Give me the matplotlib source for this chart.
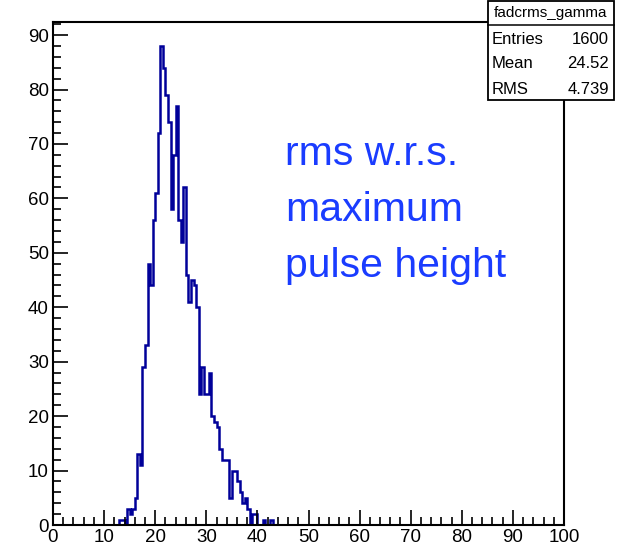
import numpy as np
import matplotlib
matplotlib.use("Agg")
import matplotlib.pyplot as plt
from matplotlib.patches import Rectangle
from matplotlib.ticker import MultipleLocator

plt.rcParams['font.family'] = ['Liberation Sans', 'DejaVu Sans']

# ---- data (bin width 0.5, range 0-100) ----
x_min, x_max, n_bins = 0.0, 100.0, 200
first_bin_low = 13.0
counts = [1, 1, 0, 3, 2, 3, 5, 13, 11, 29,
          33, 48, 44, 56, 61, 72, 88, 84, 79, 74,
          58, 68, 77, 56, 52, 62, 46, 41, 45, 44,
          40, 24, 29, 24, 24, 28, 20, 19, 18, 14,
          12, 12, 12, 5, 10, 10, 8, 6, 4, 5,
          3, 0, 2, 2, 0, 0, 1, 0, 0, 1]
hist_name = "fadcrms_gamma"
stat_labels = ["Entries", "Mean", "RMS"]
stat_values = ["1600", "24.52", "4.739"]
note_lines = ["rms w.r.s.", "maximum", "pulse height"]

edges = np.linspace(x_min, x_max, n_bins + 1)
values = np.zeros(n_bins)
i0 = int(round((first_bin_low - x_min) / ((x_max - x_min) / n_bins)))
values[i0:i0 + len(counts)] = counts

W, H = 629, 548
fig = plt.figure(figsize=(W / 100, H / 100), dpi=100)
L, R, T, B = 53, 564, 22, 525
ax = fig.add_axes([L / W, 1 - B / H, (R - L) / W, (B - T) / H])

ax.stairs(values, edges, color="#000099", lw=1.8, baseline=0, zorder=1)
ax.set_xlim(x_min, x_max)
ax.set_ylim(0, max(counts) * 1.05)

for s in ax.spines.values():
    s.set_linewidth(1.5)
    s.set_zorder(3)

ax.xaxis.set_major_locator(MultipleLocator(10))
ax.xaxis.set_minor_locator(MultipleLocator(2))
ax.yaxis.set_major_locator(MultipleLocator(10))
ax.yaxis.set_minor_locator(MultipleLocator(2))
ax.tick_params(which='both', direction='in', top=False, right=False, width=1.2, labelsize=13.5, pad=3)
ax.tick_params(which='major', length=11)
ax.tick_params(which='minor', length=5.5)

# note text
for k, line in enumerate(note_lines):
    fig.text(285 / W, 1 - (165 + 56 * k) / H, line, color="#1a3cff", fontsize=29.5,
             ha='left', va='baseline')

# stats box
bx0, bx1, by0, by1 = 488, 614, 1, 100
fig.patches.append(Rectangle((bx0 / W, 1 - by1 / H), (bx1 - bx0) / W, (by1 - by0) / H,
                             transform=fig.transFigure, facecolor='white',
                             edgecolor='black', lw=1.3, zorder=5))
sep = 25
fig.lines.append(plt.Line2D([bx0 / W, bx1 / W], [1 - sep / H, 1 - sep / H],
                            transform=fig.transFigure, color='black', lw=1.1, zorder=6))
fig.text((bx0 + bx1) / 2 / W, 1 - 13 / H, hist_name, ha='center', va='center',
         fontsize=11, zorder=7)
row_y = [39, 63, 90]
for lab, val, yy in zip(stat_labels, stat_values, row_y):
    fig.text((bx0 + 4) / W, 1 - yy / H, lab, ha='left', va='center', fontsize=12, zorder=7)
    fig.text((bx1 - 5) / W, 1 - yy / H, val, ha='right', va='center', fontsize=12, zorder=7)

fig.savefig("out.png", dpi=100)
